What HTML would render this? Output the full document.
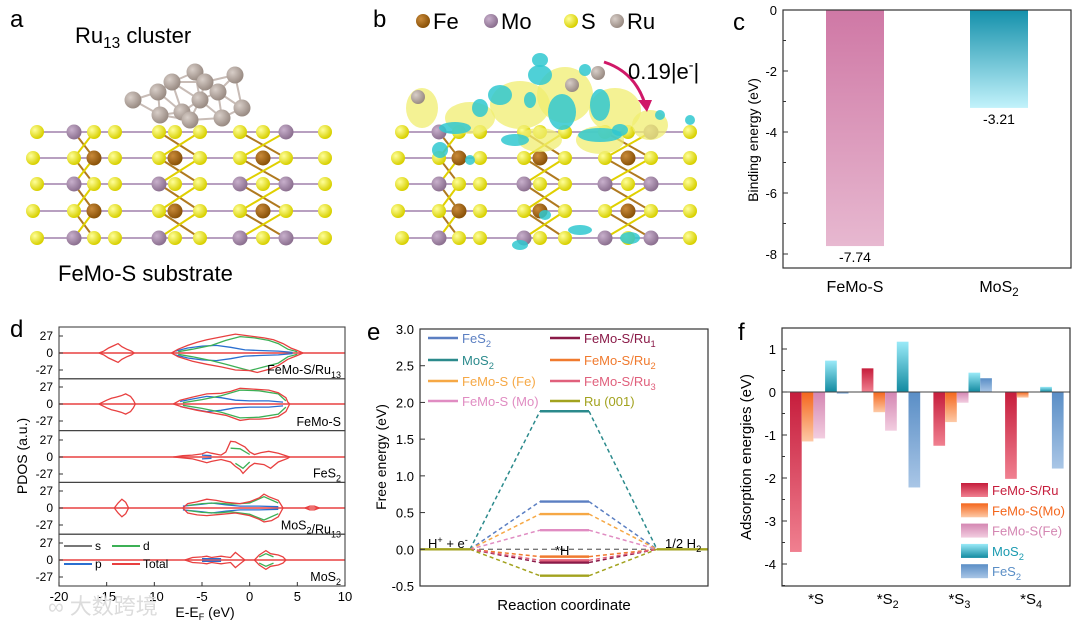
<!DOCTYPE html>
<html><head><meta charset="utf-8"><style>
html,body{margin:0;padding:0;background:#fff;}
svg{display:block;font-family:"Liberation Sans","Noto Sans CJK SC",sans-serif;}
</style></head><body>
<svg id="fig" width="1080" height="629" viewBox="0 0 1080 629" xmlns="http://www.w3.org/2000/svg">
<defs>
<radialGradient id="gS" cx="35%" cy="35%" r="65%"><stop offset="0" stop-color="#ffff9a"/><stop offset="1" stop-color="#d8d000"/></radialGradient>
<radialGradient id="gFe" cx="35%" cy="35%" r="65%"><stop offset="0" stop-color="#c98a3a"/><stop offset="1" stop-color="#8a5208"/></radialGradient>
<radialGradient id="gMo" cx="35%" cy="35%" r="65%"><stop offset="0" stop-color="#c8b0cc"/><stop offset="1" stop-color="#8c7090"/></radialGradient>
<radialGradient id="gRu" cx="35%" cy="35%" r="65%"><stop offset="0" stop-color="#d8cec8"/><stop offset="1" stop-color="#9a8c84"/></radialGradient>
<linearGradient id="cFe" x1="0" y1="0" x2="0" y2="1"><stop offset="0" stop-color="#cf78a5"/><stop offset="1" stop-color="#e7b8d0"/></linearGradient>
<linearGradient id="cMo" x1="0" y1="0" x2="0" y2="1"><stop offset="0" stop-color="#1490ab"/><stop offset="1" stop-color="#c2f2fb"/></linearGradient>
<linearGradient id="fRu" x1="0" y1="0" x2="0" y2="1"><stop offset="0" stop-color="#c61d3c"/><stop offset="1" stop-color="#f08090"/></linearGradient>
<linearGradient id="fMo" x1="0" y1="0" x2="0" y2="1"><stop offset="0" stop-color="#f4661c"/><stop offset="1" stop-color="#fdc9a6"/></linearGradient>
<linearGradient id="fFe" x1="0" y1="0" x2="0" y2="1"><stop offset="0" stop-color="#d486b2"/><stop offset="1" stop-color="#f2cde0"/></linearGradient>
<linearGradient id="fMS" x1="0" y1="0" x2="0" y2="1"><stop offset="0" stop-color="#9aeaf8"/><stop offset="1" stop-color="#128aa0"/></linearGradient>
<linearGradient id="fFS" x1="0" y1="0" x2="0" y2="1"><stop offset="0" stop-color="#5a8ec6"/><stop offset="1" stop-color="#a9c6e6"/></linearGradient>
</defs>
<g id="pa"></g>
<g id="pb"></g>
<g id="pc"></g>
<g id="pd"></g>
<g id="pe"></g>
<g id="pf"></g>
<text x="48" y="614" font-size="22" fill="#dcdcdc">∞ 大数跨境</text>
</svg>
<script>
// ---------- data ----------
const catsC = ['FeMo-S', 'MoS2'];
const valsC = [-7.74, -3.21];
const ticksC = [0, -2, -4, -6, -8];

const seriesE = ['FeS2', 'MoS2', 'FeMo-S (Fe)', 'FeMo-S (Mo)', 'FeMo-S/Ru1', 'FeMo-S/Ru2', 'FeMo-S/Ru3', 'Ru (001)'];
const valsE = [0.65, 1.88, 0.48, 0.26, -0.18, -0.10, -0.15, -0.36];
const ticksE = [3.0, 2.5, 2.0, 1.5, 1.0, 0.5, 0.0, -0.5];

const catsF = ['*S', '*S2', '*S3', '*S4'];
const seriesF = ['FeMo-S/Ru', 'FeMo-S(Mo)', 'FeMo-S(Fe)', 'MoS2', 'FeS2'];
const ruF = [-3.72, 0.55, -1.25, -2.02];
const moF = [-1.15, -0.47, -0.70, -0.13];
const feF = [-1.08, -0.90, -0.25, 0.0];
const mos2F = [0.73, 1.17, 0.45, 0.12];
const fes2F = [-0.04, -2.22, 0.32, -1.78];
const ticksF = [1, 0, -1, -2, -3, -4];

const rowsD = ['FeMo-S/Ru13', 'FeMo-S', 'FeS2', 'MoS2/Ru13', 'MoS2'];
const ticksDx = [-20, -15, -10, -5, 0, 5, 10];
const ticksDy = [27, 0, -27];
const totD = [
 [[[-15.8,0],[-15.3,3],[-14.8,8],[-14.2,12],[-13.8,15],[-13.4,10],[-12.9,6],[-12.4,3],[-12.1,0]],
  [[-15.8,0],[-15.3,-3],[-14.8,-8],[-14.2,-12],[-13.8,-15],[-13.4,-10],[-12.9,-6],[-12.4,-3],[-12.1,0]],
  [[-8.2,0],[-7.5,6],[-6.5,12],[-5.5,17],[-4.5,21],[-3.5,24],[-2.5,27],[-1.5,30],[-0.5,28],[0.5,26],[1.5,24],[2.5,21],[3.5,15],[4.3,8],[5,4],[5.6,0]],
  [[-8.2,0],[-7.5,-6],[-6,-13],[-4.5,-18],[-3,-22],[-1.5,-27],[0,-28],[0.8,-31],[2,-26],[3,-20],[4,-10],[5,-4],[5.6,0]]],
 [[[-15.8,0],[-15,6],[-14.5,9],[-14,11],[-13.5,13],[-13,16],[-12.5,12],[-12.2,6],[-12,0]],
  [[-15.8,0],[-15,-6],[-14.5,-9],[-14,-11],[-13.5,-13],[-13,-16],[-12.5,-12],[-12.2,-6],[-12,0]],
  [[-8,0],[-7.3,6],[-6,11],[-4.5,16],[-3,17],[-2,20],[-1,25],[0,24],[1,23],[2,22],[3,18],[3.8,10],[4,3],[4.2,0]],
  [[-8,0],[-7,-5],[-5.5,-10],[-4,-14],[-2.5,-18],[-1,-26],[0,-24],[1,-24],[2,-23],[3,-20],[3.8,-12],[4.2,0]]],
 [[[-8,0],[-7,2],[-6,3],[-5,5],[-4.5,8],[-4,6],[-3,3],[-2.5,8],[-2,25],[-1.5,24],[-1,20],[-0.5,16],[0,8],[0.5,4],[1.2,7],[2,9],[3,6],[3.8,2],[4.2,0]],
  [[-8,0],[-6,-3],[-5,-7],[-4.5,-9],[-4,-7],[-3,-4],[-2,-8],[-1.5,-15],[-1,-20],[-0.7,-26],[0,-15],[0.5,-10],[1.5,-12],[2.2,-18],[3,-8],[4,-2],[4.2,0]]],
 [[[-14.2,0],[-13.8,8],[-13.4,14],[-13,9],[-12.7,0]],
  [[-14.2,0],[-13.8,-8],[-13.4,-14],[-13,-9],[-12.7,0]],
  [[-7,0],[-6.5,7],[-5.5,10],[-4.5,14],[-3.5,12],[-2.5,9],[-1,7],[0,10],[1,16],[1.5,22],[2,18],[3,12],[3.3,5],[3.5,0]],
  [[-7,0],[-6.5,-8],[-5.5,-11],[-4.5,-12],[-3,-10],[-1.5,-8],[0,-12],[1,-18],[1.5,-22],[2.3,-20],[3,-14],[3.5,0]],
  [[5.8,0],[6.3,3],[6.8,3],[7.3,0]],[[5.8,0],[6.3,-3],[6.8,-3],[7.3,0]]],
 [[[-6.8,0],[-6,4],[-5,5],[-4.5,6],[-4,4],[-3,6],[-2.5,5],[-2,4],[-1.5,12],[-1,6],[-0.5,0]],
  [[-6.8,0],[-6,-4],[-5,-5],[-4.5,-6],[-4,-4],[-3,-6],[-2.5,-5],[-2,-4],[-1.5,-12],[-1,-6],[-0.5,0]],
  [[0.5,0],[1,8],[1.7,15],[2.2,10],[3,8],[3.5,5],[3.8,0]],
  [[0.5,0],[1,-8],[1.7,-15],[2.2,-10],[3,-8],[3.5,-5],[3.8,0]]]
];
const dD = [
 [[[-7.5,2],[-6,6],[-4,12],[-2.5,20],[-1,26],[0.5,24],[2,20],[3,15],[4,6],[5,2]],
  [[-7.5,-2],[-6,-6],[-4,-12],[-2.5,-18],[-1,-24],[0,-28],[1.5,-22],[3,-16],[4,-6],[5,-2]]],
 [[[-7,2],[-5,7],[-3,13],[-1,22],[1,21],[3,16],[3.8,5]],[[-7,-2],[-5,-7],[-3,-13],[-1,-22],[1,-21],[3,-16],[3.8,-5]]],
 [[[-2,14],[-1,13],[0,4]],[[-1.5,-10],[-0.7,-18],[0,-8]]],
 [[[-6.5,4],[-5,7],[-3.5,8],[-2,6],[0,8],[1.5,18],[3,8]],[[-6.5,-4],[-5,-7],[-3.5,-8],[-2,-6],[0,-10],[1.5,-19],[3,-9]]],
 [[[1,5],[1.7,10],[2.5,5]],[[1,-5],[1.7,-10],[2.5,-5]]]
];
const pD = [
 [[[-7.8,3],[-6.5,8],[-5,11],[-3.5,12],[-2,9],[-0.5,5],[1,4],[3,3],[4.5,1]],[[-7.8,-3],[-6.5,-8],[-5,-11],[-3.5,-12],[-2,-9],[-0.5,-5],[1,-4],[3,-3],[4.5,-1]]],
 [[[-7.3,4],[-6,8],[-4.5,12],[-3,10],[-1.5,6],[0,5],[2,5],[3.5,3]],[[-7.3,-4],[-6,-8],[-4.5,-12],[-3,-10],[-1.5,-6],[0,-5],[2,-5],[3.5,-3]]],
 [[[-5,3],[-4,2]],[[-5,-3],[-4,-2]]],
 [[[-7,3],[-5,6],[-4,8],[-2.5,5],[-1,3],[1,3],[3,2]],[[-7,-3],[-5,-6],[-4,-8],[-2.5,-5],[-1,-3],[1,-3],[3,-2]]],
 [[[-5,2],[-3,2]],[[-5,-2],[-3,-2]]]
];

// ---------- helpers ----------
const NS = 'http://www.w3.org/2000/svg';
function mk(tag, attrs, parent) {
  const el = document.createElementNS(NS, tag);
  for (const k in attrs) el.setAttribute(k, attrs[k]);
  parent.appendChild(el);
  return el;
}
function txt(str, attrs, parent) {
  const el = mk('text', attrs, parent);
  el.innerHTML = str;
  return el;
}
const sub = s => s.replace(/([A-Za-z])(\d+)/g, (m, a, d) => a + '<tspan font-size="0.72em" dy="4">' + d + '</tspan><tspan dy="-4"></tspan>');

// ---------- panel c ----------
(function () {
  const g = document.getElementById('pc');
  const yC = v => 10 + (-v) * 30.5;
  const xC = i => 855 + i * 144;
  const fills = ['url(#cFe)', 'url(#cMo)'];
  txt('c', {x: 733, y: 30, 'font-size': 24}, g);
  valsC.forEach((v, i) => {
    const b = mk('rect', {x: xC(i) - 29, y: yC(0), width: 58, height: yC(v) - yC(0), fill: fills[i]}, g);
    
    
    const l = txt(v.toFixed(2), {x: xC(i), y: yC(v) + 16, 'font-size': 14, 'text-anchor': 'middle'}, g);
    
    
    const c = txt(sub(catsC[i]), {x: xC(i), y: 292, 'font-size': 16, 'text-anchor': 'middle'}, g);
    
    
  });
  const f = mk('rect', {x: 783, y: 10, width: 288, height: 258, fill: 'none', stroke: '#333', 'stroke-width': 1.2}, g);
  
  ticksC.forEach(t => {
    mk('line', {x1: 783, x2: 788, y1: yC(t), y2: yC(t), stroke: '#333'}, g);
    if (t > -8) mk('line', {x1: 783, x2: 786, y1: yC(t - 1), y2: yC(t - 1), stroke: '#333'}, g);
    const l = txt(String(t), {x: 777, y: yC(t) + 5, 'font-size': 13, 'text-anchor': 'end'}, g);
    
    
  });
  const yl = txt('Binding energy (eV)', {x: 0, y: 0, 'font-size': 14, 'text-anchor': 'middle', transform: 'translate(758,140) rotate(-90)'}, g);
  
})();

// ---------- panel e ----------
(function () {
  const g = document.getElementById('pe');
  const yE = v => 329 + (3.0 - v) * 73.43;
  const colE = ['#5b7fc2', '#2b8a8c', '#f6a845', '#e08cc2', '#8a1a48', '#f07a2e', '#e0607c', '#a2a21e'];
  txt('e', {x: 367, y: 340, 'font-size': 24}, g);
  const zl = mk('line', {x1: 470, x2: 657, y1: yE(0), y2: yE(0), stroke: '#777', 'stroke-width': 1.4, 'stroke-dasharray': '5,4'}, g);
  
  valsE.forEach((v, i) => {
    const gs = mk('g', {}, g);
    
    
    mk('line', {x1: 470, y1: yE(0), x2: 540, y2: yE(v), stroke: colE[i], 'stroke-width': 1.5, 'stroke-dasharray': '4,3'}, gs);
    mk('line', {x1: 589, y1: yE(v), x2: 657, y2: yE(0), stroke: colE[i], 'stroke-width': 1.5, 'stroke-dasharray': '4,3'}, gs);
    mk('line', {x1: 540, y1: yE(v), x2: 589, y2: yE(v), stroke: colE[i], 'stroke-width': 2.4}, gs);
  });
  const base = mk('g', {}, g);
  
  mk('line', {x1: 420, x2: 470, y1: yE(0), y2: yE(0), stroke: '#a2a21e', 'stroke-width': 2.4}, base);
  mk('line', {x1: 657, x2: 708, y1: yE(0), y2: yE(0), stroke: '#a2a21e', 'stroke-width': 2.4}, base);
  const f = mk('rect', {x: 420, y: 329, width: 288, height: 257, fill: 'none', stroke: '#333', 'stroke-width': 1.2}, g);
  
  ticksE.forEach(t => {
    mk('line', {x1: 420, x2: 425, y1: yE(t), y2: yE(t), stroke: '#333'}, g);
    const l = txt(t.toFixed(1), {x: 414, y: yE(t) + 5, 'font-size': 13, 'text-anchor': 'end'}, g);
    
    
  });
  const legY = [338, 360, 381, 401];
  seriesE.forEach((s, i) => {
    const col = i < 4 ? 0 : 1;
    const y = legY[i % 4];
    const lx = col ? 550 : 428;
    const le = mk('g', {}, g);
    
    
    mk('line', {x1: lx, x2: lx + 30, y1: y, y2: y, stroke: colE[i], 'stroke-width': 2.4}, le);
    txt(sub(s), {x: lx + 34, y: y + 5, 'font-size': 13, fill: colE[i]}, le);
  });
  txt('H<tspan font-size="0.7em" dy="-5">+</tspan><tspan dy="5"> + e</tspan><tspan font-size="0.7em" dy="-5">-</tspan>', {x: 428, y: 548, 'font-size': 13}, g);
  txt('*H', {x: 555, y: 555, 'font-size': 13}, g);
  txt('1/2 H<tspan font-size="0.72em" dy="4">2</tspan>', {x: 665, y: 548, 'font-size': 13}, g);
  txt('Free energy (eV)', {x: 0, y: 0, 'font-size': 14, 'text-anchor': 'middle', transform: 'translate(386,457) rotate(-90)'}, g);
  txt('Reaction coordinate', {x: 564, y: 610, 'font-size': 15, 'text-anchor': 'middle'}, g);
})();

// ---------- panel f ----------
(function () {
  const g = document.getElementById('pf');
  const yF = v => 392 - v * 43;
  const xF = (gi, si) => 790 + gi * 71.7 + si * 11.7;
  const all = [ruF, moF, feF, mos2F, fes2F];
  const fills = ['url(#fRu)', 'url(#fMo)', 'url(#fFe)', 'url(#fMS)', 'url(#fFS)'];
  const tcol = ['#c61d3c', '#f4661c', '#d486b2', '#1a9ab0', '#5a8ec6'];
  txt('f', {x: 738, y: 340, 'font-size': 24}, g);
  all.forEach((arr, si) => {
    arr.forEach((v, gi) => {
      const y0 = Math.min(yF(0), yF(v));
      const b = mk('rect', {x: xF(gi, si), y: y0, width: 11.7, height: Math.max(Math.abs(yF(v) - yF(0)), 0.5), fill: fills[si]}, g);
      
      
    });
  });
  const zl = mk('line', {x1: 782, x2: 1070, y1: yF(0), y2: yF(0), stroke: '#444', 'stroke-width': 1}, g);
  
  const f = mk('rect', {x: 782, y: 328, width: 288, height: 258, fill: 'none', stroke: '#333', 'stroke-width': 1.2}, g);
  
  ticksF.forEach(t => {
    mk('line', {x1: 782, x2: 787, y1: yF(t), y2: yF(t), stroke: '#333'}, g);
    mk('line', {x1: 782, x2: 785, y1: yF(t - 0.5), y2: yF(t - 0.5), stroke: '#333'}, g);
    const l = txt(String(t), {x: 776, y: yF(t) + 5, 'font-size': 13, 'text-anchor': 'end'}, g);
    
    
  });
  catsF.forEach((c, gi) => {
    const l = txt(c.replace(/(\d)/, '<tspan font-size="0.72em" dy="4">$1</tspan>'), {x: xF(gi, 0) + 26, y: 604, 'font-size': 15, 'text-anchor': 'middle'}, g);
    
    
  });
  seriesF.forEach((s, si) => {
    const y = 490 + si * 20.3;
    const le = mk('g', {}, g);
    
    
    mk('rect', {x: 961, y: y - 7, width: 27, height: 14, fill: fills[si]}, le);
    txt(sub(s), {x: 992, y: y + 5, 'font-size': 13, fill: tcol[si]}, le);
  });
  txt('Adsorption energies (eV)', {x: 0, y: 0, 'font-size': 15, 'text-anchor': 'middle', transform: 'translate(751,457) rotate(-90)'}, g);
})();

// ---------- panel d ----------
(function () {
  const g = document.getElementById('pd');
  const xD = e => 59 + (e + 20) * 9.533;
  const cy = [353, 404, 457, 508, 560];
  const yD = (r, v) => cy[r] - v * 17 / 27;
  txt('d', {x: 10, y: 337, 'font-size': 24}, g);
  const pts = (r, seg) => seg.map(p => xD(p[0]).toFixed(1) + ',' + yD(r, p[1]).toFixed(1)).join(' ');
  rowsD.forEach((name, r) => {
    const rg = mk('g', {}, g);
    
    
    mk('line', {x1: 59, x2: 345, y1: cy[r], y2: cy[r], stroke: '#e84040', 'stroke-width': 1.6}, rg);
    pD[r].forEach(seg => mk('polyline', {points: pts(r, seg), fill: 'none', stroke: '#2a6fd0', 'stroke-width': 1.3}, rg));
    dD[r].forEach(seg => mk('polyline', {points: pts(r, seg), fill: 'none', stroke: '#3cb055', 'stroke-width': 1.3}, rg));
    totD[r].forEach(seg => mk('polyline', {points: pts(r, seg), fill: 'none', stroke: '#e84040', 'stroke-width': 1.3}, rg));
    mk('rect', {x: 59, y: 327 + r * 51.8, width: 286, height: 51.8, fill: 'none', stroke: '#444', 'stroke-width': 1.1}, rg);
    ticksDy.forEach(t => {
      mk('line', {x1: 59, x2: 63, y1: yD(r, t), y2: yD(r, t), stroke: '#333'}, rg);
      txt(String(t), {x: 53, y: yD(r, t) + 4, 'font-size': 12, 'text-anchor': 'end'}, rg);
    });
    const nl = txt(sub(name), {x: 341, y: 374 + r * 51.8, 'font-size': 12.5, 'text-anchor': 'end'}, rg);
    
  });
  ticksDx.forEach(t => {
    mk('line', {x1: xD(t), x2: xD(t), y1: 586, y2: 582, stroke: '#333'}, g);
    const l = txt(String(t), {x: xD(t), y: 601, 'font-size': 13, 'text-anchor': 'middle'}, g);
    
    
  });
  const lg = mk('g', {}, g);
  
  
  [['s', '#777', 64, 550], ['d', '#3cb055', 112, 550], ['p', '#2a6fd0', 64, 568], ['Total', '#e84040', 112, 568]].forEach(a => {
    mk('line', {x1: a[2], x2: a[2] + 28, y1: a[3] - 4, y2: a[3] - 4, stroke: a[1], 'stroke-width': 2}, lg);
    txt(a[0], {x: a[2] + 31, y: a[3], 'font-size': 12}, lg);
  });
  txt('PDOS (a.u.)', {x: 0, y: 0, 'font-size': 14, 'text-anchor': 'middle', transform: 'translate(27,456) rotate(-90)'}, g);
  txt('E-E<tspan font-size="0.65em" dy="3">F</tspan><tspan dy="-3"> (eV)</tspan>', {x: 205, y: 617, 'font-size': 14, 'text-anchor': 'middle'}, g);
})();

// ---------- panels a & b (structures) ----------
function lattice(g, dx) {
  const rows = [132, 158, 184, 211, 238];
  const cols = [37, 74, 94, 115, 159, 175, 200, 240, 263, 286, 325];
  rows.forEach(y => mk('line', {x1: 37 + dx, x2: 325 + dx, y1: y, y2: y, stroke: '#b8a0c0', 'stroke-width': 2}, g));
  [[74, 94], [159, 200], [240, 286]].forEach(c => {
    for (let r = 0; r < 4; r++) {
      mk('line', {x1: c[0] + dx, y1: rows[r], x2: c[1] + dx, y2: rows[r + 1], stroke: '#b07a20', 'stroke-width': 2}, g);
      mk('line', {x1: c[1] + dx, y1: rows[r], x2: c[0] + dx, y2: rows[r + 1], stroke: '#e0d000', 'stroke-width': 2}, g);
    }
  });
  rows.forEach((y, r) => cols.forEach((x, c) => {
    let fill = 'url(#gS)', rad = 7;
    if ((c === 2 || c === 5 || c === 8) && r % 2 === 1) { fill = 'url(#gFe)'; rad = 7.5; }
    if ((c === 1 || c === 4 || c === 7 || c === 9) && r % 2 === 0 && r > 0) { fill = 'url(#gMo)'; rad = 7.5; }
    if (r === 0 && (c === 1 || c === 9)) { fill = 'url(#gMo)'; rad = 7.5; }
    mk('circle', {cx: x + dx + ((c === 0 && r % 2 === 1) ? -4 : 0), cy: y, r: rad, fill: fill}, g);
  }));
}
(function () {
  const g = document.getElementById('pa');
  txt('a', {x: 10, y: 27, 'font-size': 24}, g);
  txt('Ru<tspan font-size="0.7em" dy="5">13</tspan><tspan dy="-5"> cluster</tspan>', {x: 75, y: 43, 'font-size': 22}, g);
  lattice(g, 0);
  const ru = [[133, 100], [158, 92], [195, 72], [235, 75], [160, 115], [182, 112], [200, 100], [218, 92], [190, 120], [222, 118], [242, 108], [205, 82], [172, 82]];
  ru.forEach((p, i) => ru.forEach((q, j) => {
    if (j > i && Math.hypot(p[0] - q[0], p[1] - q[1]) < 34) mk('line', {x1: p[0], y1: p[1], x2: q[0], y2: q[1], stroke: '#c8bcb6', 'stroke-width': 2}, g);
  }));
  ru.forEach(p => mk('circle', {cx: p[0], cy: p[1], r: 8.5, fill: 'url(#gRu)'}, g));
  txt('FeMo-S substrate', {x: 58, y: 281, 'font-size': 22}, g);
})();
(function () {
  const g = document.getElementById('pb');
  txt('b', {x: 373, y: 27, 'font-size': 24}, g);
  lattice(g, 365);
  const yb = [[422, 108, 16, 20], [470, 118, 25, 16], [520, 105, 30, 24], [565, 95, 28, 28], [615, 110, 26, 22], [650, 125, 18, 15], [600, 140, 24, 14], [540, 140, 22, 12]];
  yb.forEach(e => mk('ellipse', {cx: e[0], cy: e[1], rx: e[2], ry: e[3], fill: '#f0ee70', opacity: 0.75}, g));
  const cb = [[455, 128, 16, 6], [480, 108, 8, 9], [500, 95, 12, 10], [540, 75, 12, 10], [562, 112, 14, 18], [600, 105, 10, 16], [515, 140, 14, 6], [600, 135, 22, 7], [440, 150, 8, 8], [540, 60, 8, 7], [660, 115, 5, 5], [690, 120, 5, 5], [580, 230, 12, 5], [630, 238, 10, 6], [520, 245, 8, 5], [530, 100, 6, 8], [585, 70, 6, 6], [620, 130, 8, 6], [470, 160, 5, 5], [545, 215, 6, 5]];
  cb.forEach(e => mk('ellipse', {cx: e[0], cy: e[1], rx: e[2], ry: e[3], fill: '#30c8d0', opacity: 0.85}, g));
  [[418, 97], [598, 73], [572, 85]].forEach(p => mk('circle', {cx: p[0], cy: p[1], r: 7, fill: 'url(#gRu)'}, g));
  const leg = mk('g', {}, g);
  
  
  [['Fe', 'url(#gFe)', 423], ['Mo', 'url(#gMo)', 491], ['S', 'url(#gS)', 571], ['Ru', 'url(#gRu)', 617]].forEach(a => {
    mk('circle', {cx: a[2], cy: 21, r: 7, fill: a[1]}, leg);
    txt(a[0], {x: a[2] + 10, y: 29, 'font-size': 22}, leg);
  });
  const ar = mk('path', {d: 'M604,62 Q635,72 645,104', fill: 'none', stroke: '#d01868', 'stroke-width': 3}, g);
  
  mk('polygon', {points: '638,100 652,100 647,112', fill: '#d01868'}, g);
  txt('0.19|e<tspan font-size="0.65em" dy="-9">-</tspan><tspan dy="9">|</tspan>', {x: 628, y: 79, 'font-size': 22}, g);
})();
</script>
</body></html>
